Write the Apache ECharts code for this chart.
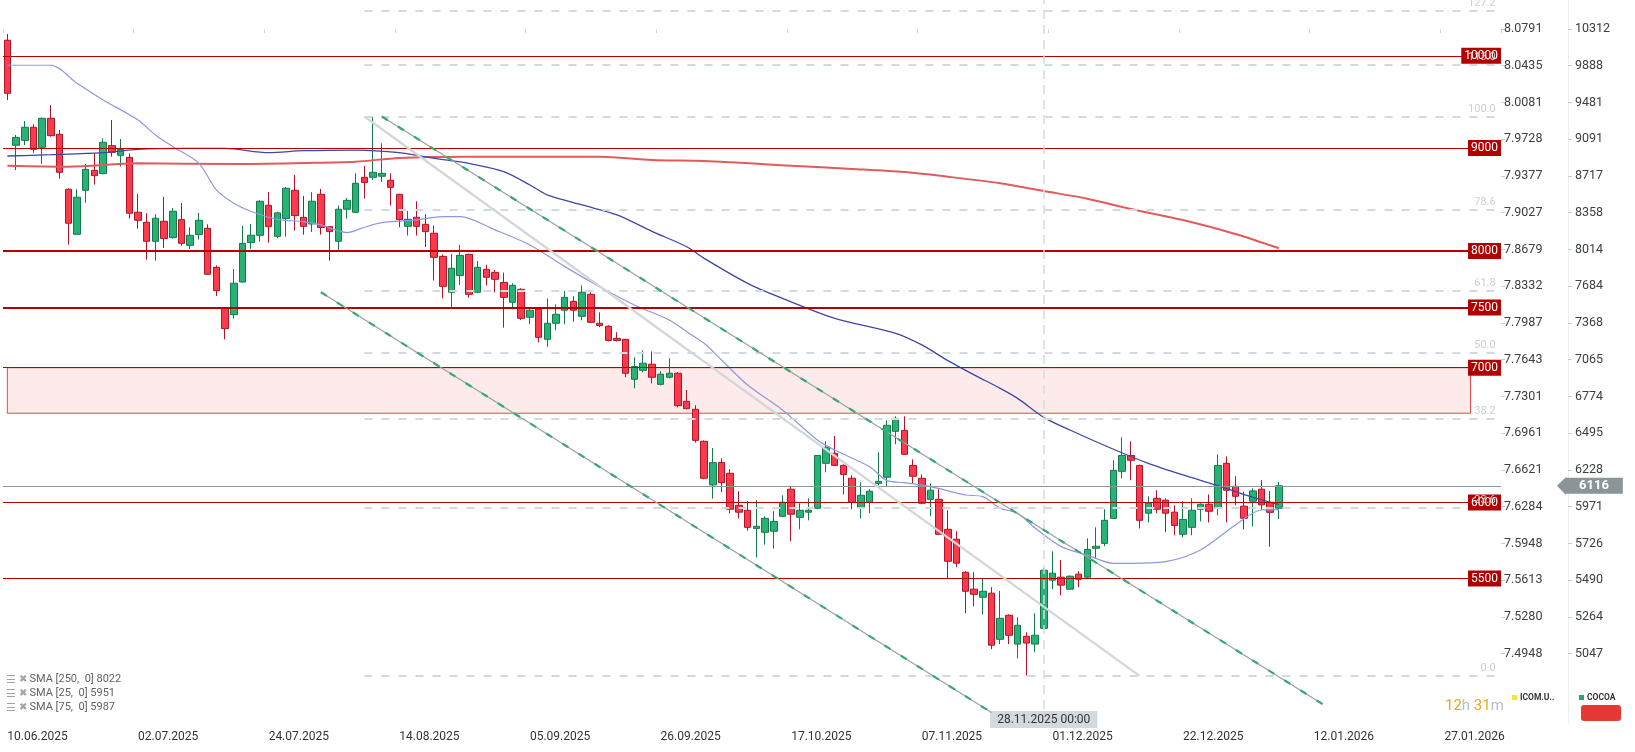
<!DOCTYPE html>
<html><head><meta charset="utf-8">
<script src="https://cdn.jsdelivr.net/npm/echarts@6/dist/echarts.min.js"></script>
<style>html,body{margin:0;padding:0;background:#fff}#c{width:1635px;height:752px}</style>
</head><body><div id="c"></div>
<script>
// ---------- DATA ----------
const open  = [10180,9028,9079,9216,9007,9311,9142,8585,8154,8575,8773,8740,9024,8925,8904,8362,8267,8089,8276,8123,8292,8052,8151,8210,7852,7492,7438,7721,8077,8145,8429,8135,8302,8575,8314,8251,8536,8226,8089,8391,8362,8703,8703,8714,8674,8536,8229,8314,8248,8164,7951,7631,7778,7969,7631,7834,7807,7718,7544,7657,7416,7484,7231,7365,7476,7552,7424,7613,7365,7340,7239,7231,6908,6979,7028,6868,6924,6956,6736,6675,6435,6122,6282,6204,5981,5947,5825,5799,5806,5906,6092,5899,5934,5961,6275,6347,6260,6169,5968,6002,6133,6176,6509,6516,6260,6169,6022,6022,5819,5753,5540,5434,5384,5409,5131,5274,5103,5149,5103,5196,5490,5509,5434,5528,5509,5694,5726,5892,6218,6332,6260,5927,6029,6016,5934,5786,5832,5954,5988,5961,6275,6112,5975,6009,6092,6002,5961];
const close = [9581,9110,9216,8986,9311,9128,8753,8258,8507,8783,8720,9059,8955,8986,8353,8286,8089,8305,8114,8372,8070,8145,8286,7790,7645,7320,7710,8070,8145,8468,8226,8356,8595,8330,8229,8468,8217,8179,8391,8477,8644,8651,8753,8743,8604,8292,8295,8229,8179,7942,7683,7843,7960,7613,7852,7763,7745,7587,7692,7407,7476,7248,7365,7441,7587,7476,7631,7373,7346,7222,7222,6956,7009,7036,6924,6948,6956,6703,6680,6442,6169,6280,6138,5954,5934,5832,5839,5892,5872,6002,5920,5947,5947,6332,6391,6260,6196,6002,6050,6078,6147,6554,6606,6340,6183,5995,6085,5786,5610,5598,5421,5402,5421,5097,5256,5155,5214,5109,5155,5553,5534,5459,5515,5496,5687,5707,5879,6225,6332,6297,5879,5995,5954,5927,5845,5885,5947,5988,5940,6260,6085,6043,5893,6080,5984,5933,6116];
const low   = [9508,8776,9031,8952,8837,9117,8690,8058,8150,8454,8631,8733,8911,8810,8302,8207,7921,7912,8027,8114,8049,8018,8105,7785,7599,7231,7404,7716,8021,8086,8077,8117,8132,8189,8151,8176,8151,7912,8009,8302,8355,8494,8677,8657,8426,8220,8142,8142,8037,7733,7578,7490,7695,7584,7625,7689,7631,7329,7484,7393,7357,7206,7170,7306,7357,7379,7390,7368,7332,7214,7214,6924,6837,6963,6876,6860,6916,6690,6675,6425,6162,6027,6071,5927,5892,5810,5635,5718,5692,5900,5740,5819,5879,5954,6211,6255,6056,5954,5892,5927,6119,6112,6413,6335,6133,5988,5906,5780,5497,5572,5286,5328,5280,5073,5103,5103,5021,4923,5056,5190,5434,5396,5430,5446,5505,5628,5707,5888,6169,6155,5825,5865,5927,5799,5779,5766,5779,5872,5865,5913,5865,5981,5819,5839,5950,5704,5888];
const high  = [10254,9135,9282,9247,9318,9453,9187,8595,8585,8837,8945,9100,9293,9093,8945,8539,8353,8343,8510,8403,8451,8220,8356,8248,7869,7495,7837,8232,8251,8477,8556,8366,8608,8727,8520,8556,8588,8230,8426,8500,8743,8817,9328,9048,8743,8540,8375,8468,8343,8236,7969,7972,8055,7975,7909,7875,7828,7804,7710,7666,7484,7490,7578,7526,7642,7596,7692,7631,7458,7348,7290,7235,7084,7140,7132,6972,7076,6965,6824,6706,6442,6386,6311,6234,6078,6009,6016,5906,5940,6050,6112,5995,6029,6335,6435,6474,6268,6190,6140,6092,6354,6591,6621,6621,6303,6196,6133,6092,5947,5806,5547,5540,5502,5446,5423,5280,5262,5173,5286,5568,5674,5617,5520,5547,5759,5832,5954,6297,6464,6435,6265,6043,6085,6029,5981,6009,6029,5995,6056,6340,6325,6183,6075,6098,6155,6080,6143];

const firstDate = '2025-06-10';
const holidays = ['2025-06-19','2025-07-04','2025-09-01','2025-11-27','2025-12-25','2026-01-01'];
const futureDays = 25;
const xTickLabels = ['10.06.2025','02.07.2025','24.07.2025','14.08.2025','05.09.2025','26.09.2025','17.10.2025','07.11.2025','01.12.2025','22.12.2025','12.01.2026','27.01.2026'];

const logLabels   = ['8.0791','8.0435','8.0081','7.9728','7.9377','7.9027','7.8679','7.8332','7.7987','7.7643','7.7301','7.6961','7.6621','7.6284','7.5948','7.5613','7.5280','7.4948'];
const priceLabels = ['10312','9888','9481','9091','8717','8358','8014','7684','7368','7065','6774','6495','6228','5971','5726','5490','5264','5047'];

const levels = [10000, 9000, 8000, 7500, 7000, 6000, 5500];
const thickLevels = [8000, 7500];
const zoneTop = 7000, zoneBottom = 6645;
const fibLevels = [0, 23.6, 38.2, 50, 61.8, 78.6, 100, 113, 127.2];
const fibLow = 4921, fibHigh = 9328;
const lastPrice = 6116;
const crosshairDate = '28.11.2025';
const crosshairText = '28.11.2025 00:00';

// drawn trend lines: [barIndex, price]
const grayTrend    = [[41, 9330], [130, 4921]];
const channelUpper = [[43, 9330], [151, 4765]];
const channelLower = [[36, 7631], [113, 4719]];

// moving averages: [barIndex, value]
const sma250 = [[0,8820],[7,8810],[15,8843],[26,8837],[34,8847],[40,8860],[45,8898],[53,8911],[68,8911],[74,8877],[80,8867],[90,8820],[97,8787],[103,8755],[108,8709],[114,8644],[119,8568],[124,8493],[129,8393],[135,8288],[141,8157],[146,8025]];
const sma25  = [[0,9893],[5,9893],[8,9691],[11,9508],[15,9293],[17,9135],[19,9014],[22,8843],[24,8578],[26,8448],[28,8369],[31,8295],[34,8273],[36,8242],[39,8170],[41,8220],[43,8264],[47,8289],[50,8321],[52,8321],[56,8195],[60,8055],[64,7858],[68,7680],[72,7521],[76,7393],[78,7295],[80,7198],[82,7062],[85,6863],[89,6670],[93,6445],[95,6371],[99,6251],[101,6152],[103,6138],[106,6110],[110,6052],[112,6041],[114,5961],[116,5927],[118,5827],[121,5705],[124,5650],[127,5597],[129,5597],[133,5608],[137,5683],[141,5848],[144,5949],[146,5951]];
const sma75  = [[0,8918],[5,8931],[11,8952],[15,8986],[20,8996],[25,8996],[30,8952],[34,8972],[40,8979],[45,8952],[49,8894],[53,8843],[57,8760],[60,8627],[62,8530],[66,8432],[70,8337],[74,8182],[78,8039],[80,7933],[85,7709],[89,7578],[95,7407],[102,7281],[105,7185],[108,7057],[111,6943],[114,6837],[116,6759],[119,6614],[122,6519],[127,6377],[131,6275],[135,6192],[139,6117],[143,6036],[146,5987]];
const legendRows = ['SMA [250,  0] 8022', 'SMA [25,  0] 5951', 'SMA [75,  0] 5987'];

// ---------- BUILD ----------
function fmt(d){return String(d.getUTCDate()).padStart(2,'0')+'.'+String(d.getUTCMonth()+1).padStart(2,'0')+'.'+d.getUTCFullYear();}
const dates = [];
let d = new Date(firstDate + 'T00:00:00Z');
while (dates.length < open.length) {
  const iso = d.toISOString().slice(0,10), wd = d.getUTCDay();
  if (wd !== 0 && wd !== 6 && holidays.indexOf(iso) < 0) dates.push(fmt(d));
  d = new Date(d.getTime() + 86400000);
}
for (let k = 0; k < futureDays; k++) { dates.push(fmt(d)); d = new Date(d.getTime() + 86400000); }
const nCat = dates.length;

const candles = open.map((o,i)=>[o, close[i], low[i], high[i]]);

// price axis: tick labels are evenly spaced on a log scale
const nT = priceLabels.length;
const ratio = Math.pow(+priceLabels[0] / +priceLabels[nT-1], 1/(nT-1));
const tickIdx = priceLabels.map((_, k) => k);
const idxTop = -0.7891, idxBottom = 18.9116;
const yMax = +priceLabels[0] * Math.pow(ratio, -idxTop);
const yMin = +priceLabels[0] / Math.pow(ratio, idxBottom);

const FONT = 'Roboto, "Noto Sans", sans-serif';
const showTick = (i, v) => xTickLabels.indexOf(v) >= 0;

const markLines = [];
levels.forEach(v => markLines.push({
  yAxis: v,
  lineStyle: {color: '#b80000', width: thickLevels.indexOf(v) >= 0 ? 2 : 1.2, type: 'solid'},
  label: {show: true, position: 'insideEndTop', distance: [0, -8], formatter: String(v),
    backgroundColor: '#b00000', color: '#fff', fontSize: 12, fontFamily: FONT, padding: [2, 3, 1, 3], lineHeight: 13}
}));
fibLevels.forEach(l => {
  const p = fibLow + l / 100 * (fibHigh - fibLow);
  markLines.push([
    {coord: [grayTrend[0][0], p],
     lineStyle: {color: '#d3dadf', width: 2, type: [8, 9]},
     label: {show: true, position: 'insideEndTop', distance: [1, 2], formatter: l.toFixed(1),
       color: '#c9d0d5', fontSize: 11, fontFamily: FONT}},
    {coord: [nCat - 1, p]}
  ]);
});
markLines.push({
  yAxis: lastPrice,
  lineStyle: {color: '#8e989c', width: 1, type: 'solid'},
  label: {show: true, position: 'end', distance: [64, 0], formatter: String(lastPrice),
    backgroundColor: '#8a9599', color: '#fff', fontWeight: 'bold', fontSize: 13, fontFamily: FONT, padding: [2, 14, 1, 14]}
});
markLines.push({
  xAxis: crosshairDate,
  lineStyle: {color: '#d7dbde', width: 1.5, type: [9, 6]},
  label: {show: true, position: 'start', distance: [0, -13], formatter: crosshairText,
    backgroundColor: '#d3d9de', color: '#333', fontSize: 12, fontFamily: '"Liberation Sans Narrow", Roboto, sans-serif', padding: [3, 7, 2, 7]}
});

function lineSeries(name, pts, color, width, type, z) {
  return {name, type: 'line', data: pts, xAxisIndex: 0, yAxisIndex: 0, smooth: 0.3, showSymbol: false, symbol: 'none',
    connectNulls: true, silent: true, z: z || 4, lineStyle: {color, width, type: type || 'solid'}};
}

const option = {
  animation: false,
  backgroundColor: '#ffffff',
  grid: {left: 3, right: 134, top: 0, bottom: 28},
  xAxis: {
    type: 'category', data: dates, boundaryGap: true,
    axisLine: {show: false},
    axisTick: {show: true, interval: showTick, length: 4, lineStyle: {color: '#d0d4d8'}},
    axisLabel: {interval: showTick, align: 'left', margin: 7, color: '#333', fontSize: 12, fontFamily: FONT},
    splitLine: {show: false}
  },
  yAxis: [
    {type: 'log', min: yMin, max: yMax, show: true, position: 'right',
     axisLine: {show: false}, axisTick: {show: false}, axisLabel: {show: false}, splitLine: {show: false}},
    {type: 'value', inverse: true, min: idxTop, max: idxBottom, position: 'right', offset: 0,
     axisLine: {show: false}, splitLine: {show: false},
     axisTick: {show: true, length: 4, customValues: tickIdx, lineStyle: {color: '#c8ccd0'}},
     axisLabel: {margin: 3, color: '#3c4043', fontSize: 12.5, fontFamily: FONT, customValues: tickIdx,
       formatter: v => logLabels[Math.round(v)] || ''}},
    {type: 'value', inverse: true, min: idxTop, max: idxBottom, position: 'right', offset: 67,
     axisLine: {show: true, lineStyle: {color: '#eceff1', width: 1}}, splitLine: {show: false},
     axisTick: {show: true, length: 4, customValues: tickIdx, lineStyle: {color: '#c8ccd0'}},
     axisLabel: {margin: 7, color: '#3c4043', fontSize: 12.5, fontFamily: FONT, customValues: tickIdx,
       formatter: v => priceLabels[Math.round(v)] || ''}}
  ],
  series: [
    {
      name: 'COCOA', type: 'candlestick', data: candles, xAxisIndex: 0, yAxisIndex: 0,
      barWidth: 7, z: 3, silent: true,
      itemStyle: {color: '#27b276', color0: '#fb3a4d', borderColor: '#15784b', borderColor0: '#ae1528', borderWidth: 1},
      markArea: {silent: true, z: 1,
        itemStyle: {color: '#fdeaea', borderColor: '#e24a4a', borderWidth: 1},
        data: [[{coord: [-0.5, zoneTop]}, {coord: [168, zoneBottom]}]]},
      markLine: {silent: true, symbol: ['none', 'none'], animation: false, z: 6, data: markLines}
    },
    lineSeries('SMA250', sma250, '#e35a5a', 2),
    lineSeries('SMA75', sma75, '#3e47a5', 1.3),
    lineSeries('SMA25', sma25, '#8f98de', 1.2),
    lineSeries('trendGray', grayTrend, '#d2d6da', 2.2, 'solid', 6),
    lineSeries('channelUpperBase', channelUpper, '#9aa39f', 1.3, 'solid', 6),
    lineSeries('channelUpperDash', channelUpper, '#3aa874', 2.2, [7, 12], 7),
    lineSeries('channelLowerBase', channelLower, '#9aa39f', 1.3, 'solid', 6),
    lineSeries('channelLowerDash', channelLower, '#3aa874', 2.2, [7, 12], 7)
  ],
  graphic: [
    ...legendRows.map((t, k) => ({
      type: 'text', left: 6, top: 674 + k * 14, silent: true,
      style: {text: '{i|☰} {x|✖} ' + t, fill: '#5f6368', fontSize: 11, fontFamily: FONT,
        rich: {i: {fill: '#a0a4a8', fontSize: 11}, x: {fill: '#a0a4a8', fontSize: 10}}}
    })),
    {type: 'polygon', silent: true, shape: {points: [[1557, 485.8], [1566, 477], [1566, 495]]}, style: {fill: '#8a9599'}},
    {type: 'text', left: 1445, top: 699, silent: true,
     style: {text: '{o|12}{g|h} {o|31}{g|m}', fontSize: 15, fontFamily: FONT,
       rich: {o: {fill: '#f5a11c', fontSize: 15, fontFamily: FONT}, g: {fill: '#b9bec3', fontSize: 15, fontFamily: FONT}}}},
    {type: 'rect', left: 1512, top: 695, shape: {width: 5, height: 5}, style: {fill: '#f7e03b'}, silent: true},
    {type: 'text', left: 1520, top: 693, silent: true, style: {text: 'ICOM.U..', fill: '#333', fontSize: 8.5, fontWeight: 'bold', fontFamily: FONT}},
    {type: 'rect', left: 1579, top: 695, shape: {width: 5, height: 5}, style: {fill: '#23a86d'}, silent: true},
    {type: 'text', left: 1587, top: 693, silent: true, style: {text: 'COCOA', fill: '#333', fontSize: 8.5, fontWeight: 'bold', fontFamily: FONT}},
    {type: 'rect', left: 1581, top: 705, shape: {width: 40, height: 16, r: 3}, style: {fill: '#e53935'}, silent: true}
  ]
};

const chart = echarts.init(document.getElementById('c'), null, {renderer: 'canvas'});
chart.setOption(option);
</script>
</body></html>
